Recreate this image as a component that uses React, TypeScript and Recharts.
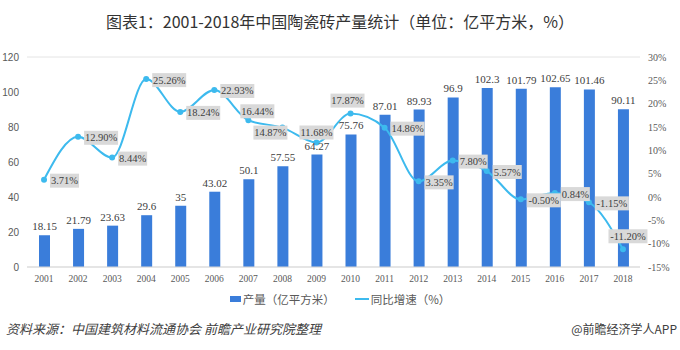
import React from 'react';
import { ComposedChart, Bar, Line, XAxis, YAxis, CartesianGrid, LabelList } from 'recharts';

const years = ['2001', '2002', '2003', '2004', '2005', '2006', '2007', '2008', '2009', '2010', '2011', '2012', '2013', '2014', '2015', '2016', '2017', '2018'];
const output = [18.15, 21.79, 23.63, 29.6, 35, 43.02, 50.1, 57.55, 64.27, 75.76, 87.01, 89.93, 96.9, 102.3, 101.79, 102.65, 101.46, 90.11];
const growth = [3.71, 12.9, 8.44, 25.26, 18.24, 22.93, 16.44, 14.87, 11.68, 17.87, 14.86, 3.35, 7.8, 5.57, -0.5, 0.84, -1.15, -11.2];
const leftTicks = [0, 20, 40, 60, 80, 100, 120];
const rightTicks = [-15, -10, -5, 0, 5, 10, 15, 20, 25, 30];

const title = '图表1：2001-2018年中国陶瓷砖产量统计（单位：亿平方米，%）';
const seriesNames = ['产量（亿平方米）', '同比增速（%）'];
const source = '资料来源：中国建筑材料流通协会 前瞻产业研究院整理';
const brand = '@前瞻经济学人APP';

const data = years.map((y, i) => ({ year: y, output: output[i], growth: growth[i] }));

const BAR = '#3A7DDA';
const LINE = '#3DBAEE';
const SERIF = '"Liberation Serif", "Times New Roman", serif';
const SANS = '"Liberation Sans", Arial, "Noto Sans CJK SC", sans-serif';
const CJK = '"Noto Sans CJK SC", sans-serif';

// label centre offsets relative to the point; null = placed to the right
const labelPlace: (number[] | null)[] = [
  null, null, null, null, null, null,
  [9, -9], [-12, 5], [0, -10], [-3, -13],
  null, null, null, null, null, null, null,
  [5, -13],
];

const GrowthLabel = (props: any) => {
  const { x, y, value } = props;
  let index = props.index;
  if (index === undefined || index === null) index = growth.indexOf(value);
  const text = Number(value).toFixed(2) + '%';
  const w = text.length * 5.0 + 4;
  const h = 14;
  const p = labelPlace[index];
  let cx: number, cy: number;
  if (p) {
    cx = x + p[0];
    cy = y + p[1];
  } else {
    cx = x + 6 + w / 2;
    cy = y + 1;
  }
  return (
    <g>
      <rect x={cx - w / 2} y={cy - h / 2} width={w} height={h} fill="#D9D9D9" />
      <text x={cx} y={cy} textAnchor="middle" dominantBaseline="central" fontSize={10.5} fontFamily={SERIF} fill="#404040">
        {text}
      </text>
    </g>
  );
};

export default function App() {
  return (
    <div style={{ position: 'absolute', left: 0, top: 0, width: 680, height: 350, background: '#fff', overflow: 'hidden' }}>
      <div style={{ position: 'absolute', top: 9, left: 0, width: 680, textAlign: 'center', fontFamily: CJK, fontSize: 16, color: '#333', whiteSpace: 'nowrap' }}>
        {title}
      </div>
      <ComposedChart width={680} height={350} data={data} margin={{ top: 57, right: 0, left: 0, bottom: 53 }}>
        <CartesianGrid vertical={false} stroke="#E4E4E4" />
        <XAxis dataKey="year" tickLine={false} axisLine={{ stroke: '#D9D9D9' }} height={30}
          tick={{ fontSize: 9.5, fill: '#595959', fontFamily: SERIF }} interval={0} />
        <YAxis yAxisId="left" width={27} domain={[0, 120]} ticks={leftTicks} tickLine={false} axisLine={false}
          tick={{ fontSize: 10, fill: '#595959', fontFamily: SANS }} />
        <YAxis yAxisId="right" orientation="right" width={40} domain={[-15, 30]} ticks={rightTicks} tickLine={false} axisLine={false}
          tickFormatter={(v: number) => v + '%'} tick={{ fontSize: 10, fill: '#595959', fontFamily: SERIF, textAnchor: 'start' }} />
        <Bar yAxisId="left" dataKey="output" fill={BAR} barSize={11} isAnimationActive={false}>
          <LabelList dataKey="output" position="top" offset={5} fill="#404040" fontSize={11} fontFamily={SERIF} />
        </Bar>
        <Line yAxisId="right" dataKey="growth" type="monotone" stroke={LINE} strokeWidth={2}
          dot={{ r: 2, fill: LINE, stroke: LINE }} isAnimationActive={false}>
          <LabelList dataKey="growth" content={<GrowthLabel />} />
        </Line>
      </ComposedChart>
      <div style={{ position: 'absolute', top: 291, left: 0, width: 680, display: 'flex', justifyContent: 'center', alignItems: 'center', fontFamily: CJK, fontSize: 11.5, color: '#595959' }}>
        <span style={{ display: 'inline-block', width: 11, height: 6, background: BAR, marginRight: 2 }} />
        <span style={{ marginRight: 20 }}>{seriesNames[0]}</span>
        <span style={{ display: 'inline-block', width: 14, height: 2, background: LINE, marginRight: 2 }} />
        <span>{seriesNames[1]}</span>
      </div>
      <div style={{ position: 'absolute', top: 319, left: 6, fontFamily: CJK, fontSize: 13, fontStyle: 'italic', color: '#404040', whiteSpace: 'nowrap' }}>
        {source}
      </div>
      <div style={{ position: 'absolute', top: 320, right: 3, fontFamily: CJK, fontSize: 12, color: '#404040', whiteSpace: 'nowrap' }}>
        {brand}
      </div>
    </div>
  );
}
